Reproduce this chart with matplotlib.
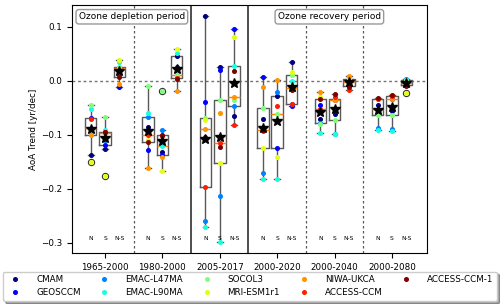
import numpy as np
import matplotlib
matplotlib.use("Agg")
import matplotlib.pyplot as plt

# model order used in every row below
models = ["CMAM", "GEOSCCM", "EMAC-L47MA", "EMAC-L90MA", "SOCOL3",
          "MRI-ESM1r1", "NIWA-UKCA", "ACCESS-CCM", "ACCESS-CCM-1"]
periods = ["1965-2000", "1980-2000", "2005-2017", "2000-2020", "2000-2040", "2000-2080"]

# AoA trends [yr/dec], one row per period, one value per model
trend_n = [
    [-0.137, -0.068, -0.088, -0.053, -0.044, -0.150, -0.100, -0.071, -0.090],
    [-0.086, -0.129, -0.067, -0.060, -0.009, -0.109, -0.161, -0.101, -0.114],
    [0.1205, -0.040, -0.259, -0.270, -0.068, -0.072, -0.0887, -0.196, -0.104],
    [-0.070, 0.0075, -0.171, -0.182, -0.050, -0.125, -0.011, -0.092, -0.0905],
    [-0.070, -0.045, -0.078, -0.097, -0.079, -0.030, -0.021, -0.053, -0.034],
    [-0.045, -0.055, -0.088, -0.0905, -0.063, -0.033, -0.0514, -0.034, -0.0316],
]
trend_s = [
    [-0.127, -0.118, -0.110, -0.091, -0.067, -0.176, -0.096, -0.095, -0.094],
    [-0.132, -0.137, -0.0906, -0.120, -0.019, -0.168, -0.1415, -0.103, -0.100],
    [0.025, 0.020, -0.214, -0.2985, -0.0347, -0.152, -0.0596, -0.115, -0.123],
    [-0.028, -0.124, -0.020, -0.182, -0.061, -0.1415, 0.0015, -0.047, -0.075],
    [-0.062, -0.035, -0.099, -0.098, -0.072, -0.034, -0.036, -0.030, -0.0235],
    [-0.055, -0.033, -0.090, -0.093, -0.0626, -0.027, -0.034, -0.0285, -0.0254],
]
trend_ns = [
    [0.023, -0.011, 0.024, 0.035, 0.026, 0.0385, -0.005, 0.0125, 0.0075],
    [0.0466, 0.026, 0.009, 0.051, 0.011, 0.0585, -0.019, 0.006, 0.003],
    [-0.065, 0.0957, -0.046, 0.028, -0.035, 0.081, -0.030, -0.0825, 0.0186],
    [0.0354, -0.047, -0.042, -0.0006, 0.0106, 0.0168, -0.013, -0.0434, -0.0173],
    [-0.009, -0.005, -0.002, 0.000, 0.003, 0.005, 0.0088, -0.0173, -0.012],
    [-0.005, -0.002, 0.003, 0.002, 0.001, -0.0225, -0.003, -0.008, -0.010],
]
# multi-model mean trends (black stars)
mmm_n = [-0.089, -0.093, -0.107, -0.087, -0.0577, -0.054]
mmm_s = [-0.106, -0.112, -0.104, -0.0745, -0.052, -0.0484]
mmm_ns = [0.018, 0.0215, -0.003, -0.011, -0.002, -0.003]

box_labels = ["N", "S", "N-S"]
offsets = [-0.25, 0.0, 0.25]

plt.rcParams["font.size"] = 6.3
fig = plt.figure(figsize=(5.0, 3.04), dpi=100)
ax = fig.add_axes([0.144, 0.168, 0.71, 0.816])

colors = plt.cm.jet(np.linspace(0, 1, len(models)))
pos = np.arange(len(periods))
box_kw = dict(
    widths=0.2, whis=1.5, manage_ticks=False,
    boxprops=dict(color="0.35", lw=1.0),
    whiskerprops=dict(color="0.35", lw=1.0),
    capprops=dict(color="0.35", lw=1.0),
    medianprops=dict(color="tab:orange", lw=1.0),
    flierprops=dict(marker="o", mfc="none", mec="0.2", ms=4.5, mew=0.8),
)

for off, data, mmm in zip(offsets, [trend_n, trend_s, trend_ns], [mmm_n, mmm_s, mmm_ns]):
    ax.boxplot([np.array(row) for row in data], positions=pos + off, **box_kw)
    arr = np.array(data)
    for m in range(len(models)):
        ax.plot(pos + off, arr[:, m], "o", color=colors[m], ms=2.6, zorder=3)
    ax.plot(pos + off, mmm, "*", color="k", ms=7, zorder=4)

for m, name in enumerate(models):
    ax.plot([], [], "o", color=colors[m], ms=2.6, label=name)

# labels under each box
for i in pos:
    for off, lab in zip(offsets, box_labels):
        ax.text(i + off, -0.293, lab, ha="center", va="center", fontsize=4.3)

ax.axhline(0, color="0.45", lw=1.0, ls=(0, (2, 2)), zorder=1)
for xs, style in zip([0.5, 1.5, 2.5, 3.5, 4.5],
                     ["dash", "solid", "solid", "dash", "dash"]):
    if style == "solid":
        ax.axvline(xs, color="0.25", lw=1.3)
    else:
        ax.axvline(xs, color="0.35", lw=0.9, ls=(0, (2, 2)))

ax.set_xlim(-0.575, 5.61)
ax.set_ylim(-0.319, 0.141)
ax.set_xticks(pos)
ax.set_xticklabels(periods)
ax.set_yticks([-0.3, -0.2, -0.1, 0.0, 0.1])
ax.set_ylabel("AoA Trend [yr/dec]")
ax.yaxis.set_label_coords(-0.097, 0.5)

bbox = dict(boxstyle="round,pad=0.3", fc="white", ec="0.6")
ax.text(0.019, 0.952, "Ozone depletion period", transform=ax.transAxes,
        ha="left", va="center", fontsize=6.5, bbox=bbox)
ax.text(0.725, 0.952, "Ozone recovery period", transform=ax.transAxes,
        ha="center", va="center", fontsize=6.5, bbox=bbox)

fig.legend(loc="lower left", bbox_to_anchor=(0.006, 0.01, 0.988, 0.11),
           mode="expand", ncol=5, fancybox=True, shadow=True,
           borderaxespad=0, handletextpad=1.4, fontsize=6.3)

fig.savefig("out.png", dpi=100)
